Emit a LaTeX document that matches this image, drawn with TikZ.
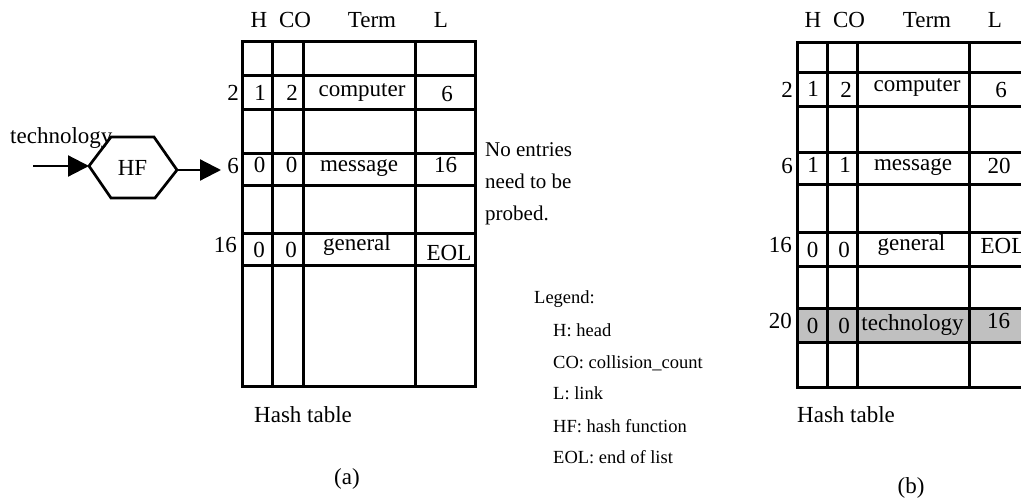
\documentclass[tikz,border=0pt]{standalone}
\usepackage{fontspec}
\setmainfont{Liberation Serif}
\usetikzlibrary{arrows.meta}
\definecolor{rowgray}{RGB}{192,192,192}
\begin{document}
\begin{tikzpicture}[x=1pt,y=-1pt,
  cell/.style={inner sep=0pt, anchor=base, font=\fontsize{23}{27}\selectfont},
  rowlab/.style={inner sep=0pt, anchor=base east, font=\fontsize{23}{27}\selectfont},
  caption/.style={inner sep=0pt, anchor=base west, font=\fontsize{23}{27}\selectfont},
  note/.style={inner sep=0pt, anchor=base west, font=\fontsize{21}{25}\selectfont},
  legend/.style={inner sep=0pt, anchor=base west, font=\fontsize{18.5}{22}\selectfont},
  tableline/.style={line width=3pt},
  link/.style={line width=2.2pt, -{Triangle[length=21pt,width=21pt]}}]

\clip (0,0) rectangle (1021,503);

% ---------- (a) hash table before insertion ----------
\draw[tableline] (242,42) rectangle (475,386);
\foreach \x in {272,303,415} \draw[tableline] (\x,42) -- (\x,386);
\foreach \y in {76,110,153,185,233,265} \draw[tableline] (242,\y) -- (475,\y);

\node[cell] (ha) at (259,28) {H};
\node[cell] (coa) at (295,28) {CO};
\node[cell] (terma) at (372,28) {Term};
\node[cell] (la) at (441,28) {L};

\node[rowlab] (a2) at (239,101) {2};
\node[cell] (a2h) at (260,101) {1};
\node[cell] (a2c) at (292,101) {2};
\node[cell] (a2t) at (362,96) {computer};
\node[cell] (a2l) at (447,102) {6};

\node[rowlab] (a6) at (239,173) {6};
\node[cell] (a6h) at (259.5,172) {0};
\node[cell] (a6c) at (291.5,172) {0};
\node[cell] (a6t) at (359,171) {message};
\node[cell] (a6l) at (445.5,172) {16};

\node[rowlab] (a16) at (237,252) {16};
\node[cell] (a16h) at (259,257) {0};
\node[cell] (a16c) at (291,257) {0};
\node[cell] (a16t) at (357,250) {general};
\node[cell] (a16l) at (449,260) {EOL};

\node[caption] (capa) at (254,422) {Hash table};
\node[cell] (parta) at (347,484) {(a)};

% hash function with its input and output
\node[caption] (input) at (10,143) {technology};
\coordinate (tin) at (33,166);
\coordinate (hfW) at (89,166);
\coordinate (hfE) at (177,170);
\coordinate (hfout) at (221,170);
\draw[line width=2.7pt, line join=miter] (hfW) -- (111,137) -- (154,137) -- (hfE)
  -- (155,198) -- (111,198) -- cycle;
\node[cell] (hf) at (132.5,175) {HF};
\draw[link] (tin) -- (hfW);
\draw[link] (hfE) -- (hfout);

% remark
\node[note] (n1) at (485,157) {No entries};
\node[note] (n2) at (485,188) {need to be};
\node[note] (n3) at (485,220) {probed.};

% legend
\node[legend] (lg0) at (534,303) {Legend:};
\node[legend] (lg1) at (553,336) {H: head};
\node[legend] (lg2) at (553,368) {CO: collision\_count};
\node[legend] (lg3) at (553,399) {L: link};
\node[legend] (lg4) at (553,432) {HF: hash function};
\node[legend] (lg5) at (553,463) {EOL: end of list};

% ---------- (b) hash table after insertion ----------
\fill[rowgray] (797,308) rectangle (1029,342);
\draw[tableline] (797,43) rectangle (1029,387);
\foreach \x in {827,857,969} \draw[tableline] (\x,43) -- (\x,387);
\foreach \y in {73,107,152,184,232,266,308,342} \draw[tableline] (797,\y) -- (1029,\y);

\node[cell] (hb) at (813,28) {H};
\node[cell] (cob) at (849,28) {CO};
\node[cell] (termb) at (927,28) {Term};
\node[cell] (lb) at (995,28) {L};

\node[rowlab] (b2) at (793,98) {2};
\node[cell] (b2h) at (813,97) {1};
\node[cell] (b2c) at (846,98) {2};
\node[cell] (b2t) at (917,92) {computer};
\node[cell] (b2l) at (1001,98) {6};

\node[rowlab] (b6) at (793,173) {6};
\node[cell] (b6h) at (813,172) {1};
\node[cell] (b6c) at (845,172) {1};
\node[cell] (b6t) at (913,170) {message};
\node[cell] (b6l) at (999,173) {20};

\node[rowlab] (b16) at (792,252) {16};
\node[cell] (b16h) at (812.5,257) {0};
\node[cell] (b16c) at (844,257) {0};
\node[cell] (b16t) at (911.5,250) {general};
\node[cell] (b16l) at (1003,253) {EOL};

\node[rowlab] (b20) at (792,328) {20};
\node[cell] (b20h) at (812.5,333) {0};
\node[cell] (b20c) at (844,333) {0};
\node[cell] (b20t) at (912.5,330) {technology};
\node[cell] (b20l) at (998.5,328) {16};

\node[caption] (capb) at (797,422) {Hash table};
\node[cell] (partb) at (911,493) {(b)};
\end{tikzpicture}
\end{document}
